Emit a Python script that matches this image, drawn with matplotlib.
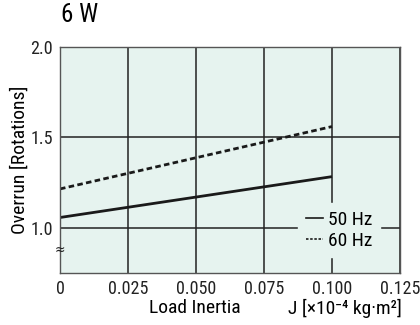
import numpy as np
import matplotlib.pyplot as plt
from matplotlib.lines import Line2D
from matplotlib import font_manager

# data
inertia = [0.0, 0.100]
overrun_50hz = [1.057, 1.283]
overrun_60hz = [1.215, 1.560]
xticks = [0, 0.025, 0.050, 0.075, 0.100, 0.125]
xticklabels = ['0', '0.025', '0.050', '0.075', '0.100', '0.125']
yticks = [1.0, 1.5, 2.0]
yticklabels = ['1.0', '1.5', '2.0']

bg = '#e6f3ef'
avail = {f.name for f in font_manager.fontManager.ttflist}
fams = [f for f in ['Roboto Condensed', 'Liberation Sans Narrow', 'DejaVu Sans Condensed',
                    'Liberation Sans'] if f in avail]
plt.rcParams['font.family'] = fams[:1] + ['DejaVu Sans']
plt.rcParams['font.stretch'] = 'condensed'

fig = plt.figure(figsize=(4.2, 3.25), dpi=100)
ax = fig.add_axes([60/420, 1-273/325, 340/420, 226/325])
ax.set_facecolor(bg)

ax.set_xlim(0, 0.125)
ax.set_ylim(0.75, 2.0)
ax.set_xticks(xticks)
ax.set_xticklabels(xticklabels)
ax.set_yticks(yticks)
ax.set_yticklabels(yticklabels)
ax.tick_params(length=0, labelsize=13, colors='#222222', pad=5)
ax.grid(True, color='#222222', lw=1.1)
ax.set_axisbelow(True)
for s in ax.spines.values():
    s.set_color('#555555')
    s.set_linewidth(1.0)

ax.plot(inertia, overrun_50hz, color='#1a1a1a', lw=2.0, solid_capstyle='butt')
ax.plot(inertia, overrun_60hz, color='#1a1a1a', lw=2.0, ls=(0, (2, 1.2)))

handles = [Line2D([], [], color='#1a1a1a', lw=1.2),
           Line2D([], [], color='#1a1a1a', lw=1.2, ls=(0, (1.5, 1)))]
leg = ax.legend(handles, ['50 Hz', '60 Hz'], loc='center left',
                bbox_to_anchor=(0.712, 0.19), frameon=True, fontsize=14,
                handlelength=0.9, handletextpad=0.25, labelspacing=0.15,
                borderpad=0.2, borderaxespad=0)
leg.get_frame().set_facecolor(bg)
leg.get_frame().set_edgecolor(bg)
leg.get_frame().set_alpha(1)
leg.get_frame().set_boxstyle('square', pad=0.2)

# axis break mark
ax.text(0, 0.88, '≈', transform=ax.transData, ha='center', va='center',
        fontsize=10, family='DejaVu Sans', color='#222222')

fig.text(61/420, 1-15/325, '6 W', fontsize=18, ha='left', va='center')
fig.text(20/420, 1-160/325, 'Overrun [Rotations]', rotation=90,
         fontsize=14, ha='center', va='center')
fig.text(195/420, 1-308/325, 'Load Inertia', fontsize=14,
         ha='center', va='center')
fig.text(402/420, 1-308/325, 'J [×10⁻⁴ kg·m²]',
         fontsize=14, ha='right', va='center')

fig.savefig('out.png', dpi=100)
